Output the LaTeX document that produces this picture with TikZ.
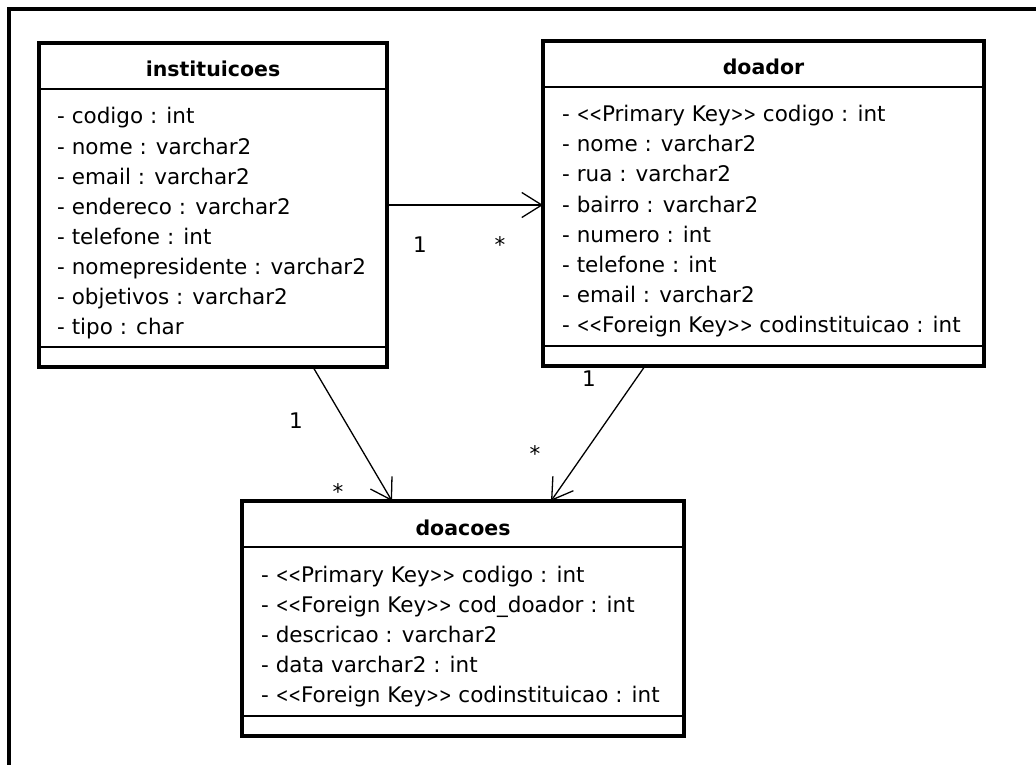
\documentclass[tikz,border=0pt]{standalone}
\usepackage{fontspec}
\usepackage{graphicx}
\usetikzlibrary{arrows.meta,calc}
\newfontfamily\umlfont{DejaVu Sans}
% narrow guillemet-like brackets for the stereotypes
\newcommand\stlt{\scalebox{0.7}[0.95]{<}}
\newcommand\stgt{\scalebox{0.7}[0.95]{>}}
\newcommand\pkey{\stlt\stlt Primary Key\stgt\stgt}
\newcommand\fkey{\stlt\stlt Foreign Key\stgt\stgt}
\tikzset{
  frameline/.style={line width=4pt},
  umlbox/.style={draw, rectangle, line width=3.2pt, inner sep=0pt, outer sep=0pt},
  sepline/.style={line width=1.3pt},
  classtitle/.style={font=\umlfont\bfseries\fontsize{20.5}{24}\selectfont, anchor=base, inner sep=0pt},
  attr/.style={font=\umlfont\fontsize{21.5}{26}\selectfont, anchor=base west, inner sep=0pt},
  mult/.style={font=\umlfont\fontsize{21.5}{26}\selectfont, anchor=base, inner sep=0pt},
  assoc/.style={line width=1.3pt, -{Straight Barb[length=20pt,width=25pt]}},
}
\begin{document}
\begin{tikzpicture}[x=1pt,y=-1pt]
\useasboundingbox (0,0) rectangle (1036,765);

% window frame (top and left edges)
\draw[frameline] (9,770) -- (9,9) -- (1040,9);

% class boxes
\node[umlbox, minimum width=348pt, minimum height=324pt] (inst) at (213,205) {};
\node[umlbox, minimum width=441pt, minimum height=325pt] (doador) at (763.5,203.5) {};
\node[umlbox, minimum width=442pt, minimum height=235pt] (doacoes) at (463,618.5) {};

% compartment separators
\foreach \b in {inst,doador,doacoes}{
  \draw[sepline] ($(\b.north west)+(0,46)$) -- ($(\b.north east)+(0,46)$);
  \draw[sepline] ($(\b.south west)+(0,-20)$) -- ($(\b.south east)+(0,-20)$);
}

% class names
\node[classtitle] (inst-t) at ($(inst.north)+(0,34)$) {instituicoes};
\node[classtitle] (doador-t) at ($(doador.north)+(0,34)$) {doador};
\node[classtitle] (doacoes-t) at ($(doacoes.north)+(0,34)$) {doacoes};

% attributes
\foreach \t [count=\i] in {- codigo : int, - nome : varchar2, - email : varchar2,
  - endereco : varchar2, - telefone : int, - nomepresidente : varchar2,
  - objetivos : varchar2, - tipo : char}
  \node[attr] (inst-a\i) at ($(inst.north west)+(18,{81+30*(\i-1)})$) {\t};

\foreach \t [count=\i] in {- \pkey{} codigo : int, - nome : varchar2, - rua : varchar2,
  - bairro : varchar2, - numero : int, - telefone : int, - email : varchar2,
  - \fkey{} codinstituicao : int}
  \node[attr] (doador-a\i) at ($(doador.north west)+(19,{81+30*(\i-1)})$) {\t};

\foreach \t [count=\i] in {- \pkey{} codigo : int, - \fkey{} cod\_doador : int,
  - descricao : varchar2, - data varchar2 : int, - \fkey{} codinstituicao : int}
  \node[attr] (doacoes-a\i) at ($(doacoes.north west)+(19,{81+30*(\i-1)})$) {\t};

% associations
\draw[assoc] (inst.east) -- (inst.east -| doador.west);
\draw[assoc] ($(inst.south west)+(274,0)$) -- ($(doacoes.north west)+(150,0)$);
\draw[assoc] ($(doador.south west)+(102,0)$) -- ($(doacoes.north west)+(309,0)$);

% multiplicities
\node[mult] (m1a) at (420,252) {1};
\node[mult] (m1b) at (500,252) {*};
\node[mult] (m2a) at (296,428) {1};
\node[mult] (m2b) at (338,499) {*};
\node[mult] (m3a) at (589,386) {1};
\node[mult] (m3b) at (535,461) {*};
\end{tikzpicture}
\end{document}
